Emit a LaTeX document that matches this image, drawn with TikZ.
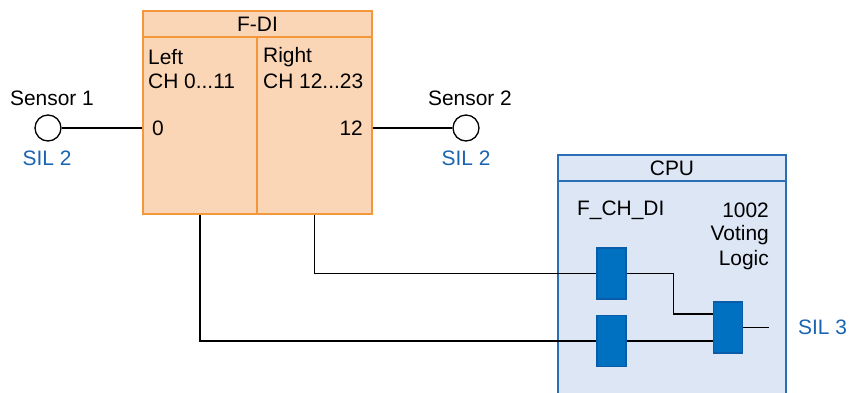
\documentclass[tikz,border=0pt]{standalone}
\usepackage{fontspec}
\setmainfont{Liberation Sans}
\usetikzlibrary{calc}
\definecolor{orbd}{HTML}{F4973A}
\definecolor{orfill}{HTML}{FBD6B6}
\definecolor{cpubd}{HTML}{2A6EB5}
\definecolor{cpufill}{HTML}{DCE6F4}
\definecolor{blkfill}{HTML}{0070C0}
\definecolor{blkbd}{HTML}{0A5CA8}
\definecolor{silblue}{HTML}{1A64B0}
\begin{document}
\begin{tikzpicture}[x=1bp,y=-1bp,
  every node/.style={font=\fontsize{21}{25}\selectfont},
  txt/.style={inner sep=0pt, text=black},
  sil/.style={inner sep=0pt, text=silblue},
  orbox/.style={draw=orbd, fill=orfill, line width=2.7bp, inner sep=0pt},
  cpubox/.style={draw=cpubd, fill=cpufill, line width=2bp, inner sep=0pt},
  blk/.style={draw=blkbd, fill=blkfill, line width=1.5bp, inner sep=0pt, minimum width=29bp, minimum height=51bp},
  sensor/.style={circle, draw=black, fill=white, line width=1.3bp, minimum size=26bp, inner sep=0pt},
  wire/.style={draw=black, line width=1.3bp}]
\useasboundingbox (0,0) rectangle (850,392);
\clip (0,0) rectangle (850,392);

% F-DI module
\node[orbox, minimum width=229bp, minimum height=26bp] (fdiT) at (257.5,24) {};
\node[orbox, minimum width=114bp, minimum height=177bp] (fdiL) at (200,125.5) {};
\node[orbox, minimum width=115bp, minimum height=177bp] (fdiR) at (314.5,125.5) {};
\node[txt] (tFDI) at (257.5,24) {F-DI};
\node[txt, anchor=west] (tLeft) at (148,57) {Left};
\node[txt, anchor=west] (tCHL) at (148,81) {CH 0...11};
\node[txt, anchor=west] (tRight) at (263,57) {Right};
\node[txt, anchor=west] (tCHR) at (263,81) {CH 12...23};
\node[txt, anchor=west] (t0) at (152,128) {0};
\node[txt, anchor=east] (t12) at (363,128) {12};

% sensors
\node[sensor] (s1) at (48,128) {};
\node[sensor] (s2) at (466,128) {};
\node[txt] (ts1) at (52,98) {Sensor 1};
\node[txt] (ts2) at (470,98) {Sensor 2};
\node[sil] (sil1) at (47,158) {SIL 2};
\node[sil] (sil2) at (466,158) {SIL 2};
\draw[wire] (s1.east) -- (s1.east -| fdiL.west);
\draw[wire] (s2.west) -- (s2.west -| fdiR.east);

% CPU
\node[cpubox, minimum width=228bp, minimum height=26bp] (cpuT) at (672,168) {};
\node[cpubox, minimum width=228bp, minimum height=230bp] (cpuB) at (672,296) {};
\node[txt] (tCPU) at (672,168) {CPU};
\node[txt, anchor=west] (tFCH) at (577,210) {F\_CH\_DI};
\node[txt, anchor=east] (t1002) at (769,210) {1002};
\node[txt, anchor=east] (tVot) at (769,235) {Voting};
\node[txt, anchor=east] (tLog) at (769,260) {Logic};

\node[blk] (b1) at (611.5,273.5) {};
\node[blk] (b2) at (611.5,341) {};
\node[blk] (vote) at (728,327.5) {};
\node[sil, anchor=west] (sil3) at (798,327) {SIL 3};

% wires
\draw[wire] (fdiL.south) |- (b2.west);
\draw[wire] (fdiR.south) |- (b1.west);
\draw[wire] (b1.east) -- ++(47,0) |- ($(vote.west)+(0,-13.5)$);
\draw[wire] (b2.east) -- (b2.east -| vote.west);
\coordinate (outEnd) at (769,327.5);
\draw[wire] (vote.east) -- (outEnd);
\end{tikzpicture}
\end{document}
